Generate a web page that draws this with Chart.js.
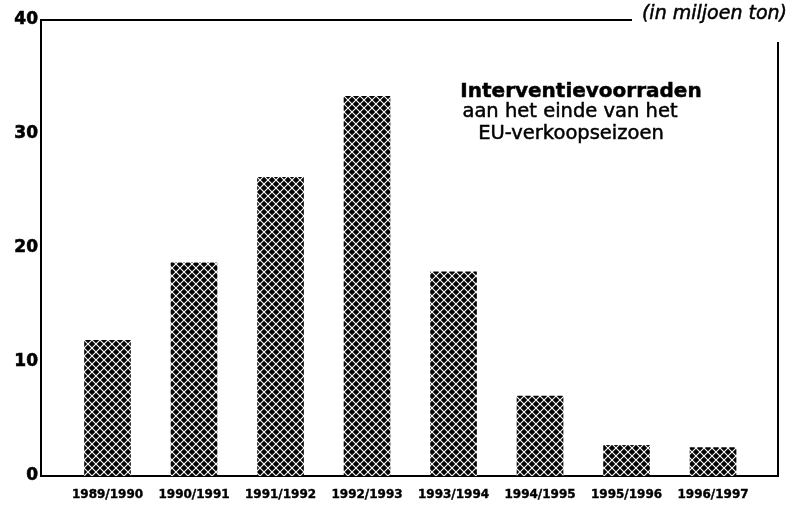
<!DOCTYPE html>
<html>
<head>
<meta charset="utf-8">
<script src="https://cdn.jsdelivr.net/npm/chart.js@4/dist/chart.umd.min.js"></script>
<style>
  body { margin: 0; background: #fff; }
</style>
</head>
<body>
<canvas id="myChart" width="791" height="506"></canvas>
<script>
const seizoenen = [
  '1989/1990',
  '1990/1991',
  '1991/1992',
  '1992/1993',
  '1993/1994',
  '1994/1995',
  '1995/1996',
  '1996/1997'
];
const voorraden = [11.9, 18.7, 26.2, 33.3, 17.9, 7.0, 2.7, 2.5];
const yTicks = [0, 10, 20, 30, 40];

const eenheid = '(in miljoen ton)';
const titel = 'Interventievoorraden';
const ondertitel = ['aan het einde van het', 'EU-verkoopseizoen'];

// crosshatch pattern like the printed screen
function maakPatroon() {
  const pc = document.createElement('canvas');
  pc.width = 8;
  pc.height = 8;
  const c = pc.getContext('2d');
  c.fillStyle = '#050505';
  c.fillRect(0, 0, 8, 8);
  c.strokeStyle = '#fff';
  c.lineWidth = 1.1;
  for (const o of [-8, 0, 8]) {
    c.beginPath();
    c.moveTo(o, 0); c.lineTo(o + 8, 8);
    c.moveTo(o + 8, 0); c.lineTo(o, 8);
    c.stroke();
  }
  return document.getElementById('myChart').getContext('2d').createPattern(pc, 'repeat');
}

const punten = voorraden.map((v, i) => ({ x: i, y: v }));

function dikkeTekst(ctx, s, x, y) {
  ctx.fillText(s, x, y);
  ctx.strokeText(s, x, y);
}

const tekstPlugin = {
  id: 'teksten',
  afterDraw(chart) {
    const ctx = chart.ctx;
    const a = chart.chartArea;
    ctx.save();
    ctx.strokeStyle = '#000';
    ctx.lineWidth = 2;
    ctx.beginPath();
    ctx.moveTo(a.left, a.top);
    ctx.lineTo(632, a.top);
    ctx.moveTo(a.right, 42);
    ctx.lineTo(a.right, a.bottom);
    ctx.stroke();

    ctx.fillStyle = '#000';
    ctx.lineWidth = 0.5;
    ctx.textBaseline = 'alphabetic';
    ctx.textAlign = 'right';
    ctx.font = 'oblique 19px "DejaVu Sans"';
    dikkeTekst(ctx, eenheid, 787, 19);

    ctx.textAlign = 'center';
    ctx.font = 'bold 20px "DejaVu Sans"';
    dikkeTekst(ctx, titel, 581, 97);
    ctx.font = '19.5px "DejaVu Sans"';
    dikkeTekst(ctx, ondertitel[0], 570, 117);
    dikkeTekst(ctx, ondertitel[1], 571, 139);
    ctx.restore();
  }
};

const config = {
  type: 'bar',
  data: {
    datasets: [{
      label: 'Interventievoorraden',
      data: punten,
      backgroundColor: maakPatroon(),
      borderWidth: 0,
      barThickness: 46
    }]
  },
  options: {
    responsive: false,
    animation: false,
    layout: { padding: { top: 20, right: 13, left: 0, bottom: 0 } },
    plugins: {
      legend: { display: false },
      tooltip: { enabled: false }
    },
    scales: {
      x: {
        type: 'linear',
        offset: false,
        min: -0.769,
        max: 7.751,
        grid: { display: false, drawTicks: false, offset: false },
        border: { display: true, color: '#000', width: 2 },
        afterFit(scale) { scale.height = 30; },
        ticks: {
          stepSize: 1,
          autoSkip: false,
          maxRotation: 0,
          padding: 12,
          color: '#000',
          textStrokeColor: '#000',
          textStrokeWidth: 0.4,
          font: { family: 'DejaVu Sans', size: 12, weight: 'bold' },
          callback: (v) => Number.isInteger(v) && seizoenen[v] ? seizoenen[v] : ''
        }
      },
      y: {
        min: 0,
        max: 40,
        grid: { display: false, drawTicks: false },
        border: { display: true, color: '#000', width: 2 },
        afterFit(scale) { scale.width = 41; },
        afterBuildTicks(scale) { scale.ticks = yTicks.map(v => ({ value: v })); },
        ticks: {
          padding: 3,
          color: '#000',
          textStrokeColor: '#000',
          textStrokeWidth: 0.6,
          font: { family: 'DejaVu Sans', size: 17, weight: 'bold' }
        }
      }
    }
  },
  plugins: [tekstPlugin]
};

myChart = new Chart(document.getElementById('myChart'), config);
</script>
</body>
</html>
